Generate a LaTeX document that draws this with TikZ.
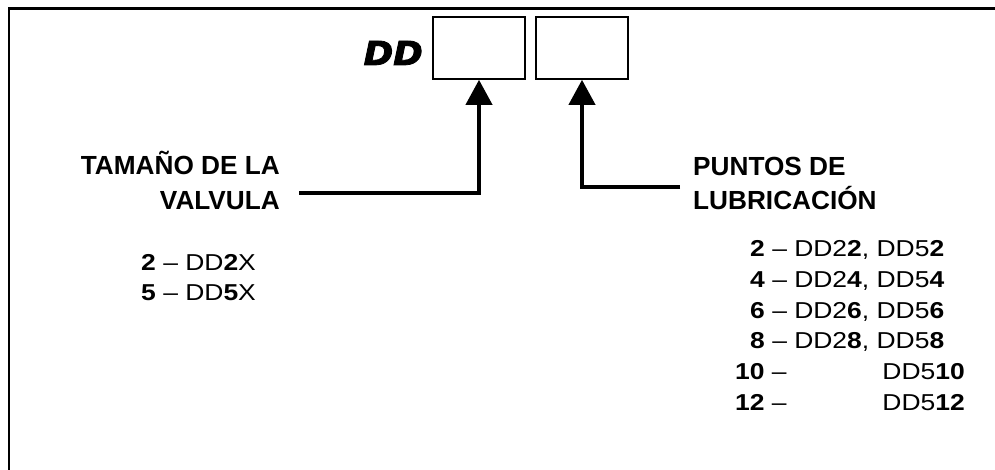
\documentclass[tikz,border=0pt]{standalone}
\usepackage{fontspec}
\setmainfont{Liberation Sans}
\newfontfamily\ddfont{DejaVu Sans}[FakeBold=2.5]
\usetikzlibrary{arrows.meta}

\begin{document}
\begin{tikzpicture}[x=1pt,y=-1pt,
  frameline/.style={line width=2.6pt,line cap=rect},
  codebox/.style={draw,line width=1.6pt,minimum width=92pt,minimum height=62pt,inner sep=0pt},
  conn/.style={line width=4pt,-{Triangle[width=26pt,length=25pt]}},
  heading/.style={font=\fontsize{26.2}{30}\selectfont\bfseries,inner sep=0pt},
  item/.style={font=\fontsize{23}{28}\selectfont,inner sep=0pt}]
\newcommand{\wide}[1]{\scalebox{1.15}[1]{#1}}
\useasboundingbox (0,0) rectangle (995,470);

% open frame: top and left edges only
\draw[frameline] (8.8,470) -- (8.8,8.8) -- (995,8.8);

% code prefix and the two selection boxes
\node[inner sep=0pt,anchor=base east] (dd) at (423,65)
  {\scalebox{1.08}[1]{\ddfont\fontsize{33}{36}\selectfont\bfseries\itshape DD}};
\node[codebox] (b1) at (479,48) {};
\node[codebox] (b2) at (582,48) {};

% left caption: valve size
\node[heading,anchor=base east] (t1) at (280,175) {TAMAÑO DE LA};
\node[heading,anchor=base east] (t2) at (280,210) {VALVULA};
\node[item,anchor=base west] (v2) at (141,270) {\wide{\textbf{2} – DD\textbf{2}X}};
\node[item,anchor=base west] (v5) at (141,300) {\wide{\textbf{5} – DD\textbf{5}X}};

% right caption: lubrication points
\node[heading,anchor=base west] (p1) at (693,176) {PUNTOS DE};
\node[heading,anchor=base west] (p2) at (693,210) {LUBRICACIÓN};
\node[item,anchor=base west] (r2) at (750,256) {\wide{\textbf{2} – DD2\textbf{2}, DD5\textbf{2}}};
\node[item,anchor=base west] (r4) at (750,287) {\wide{\textbf{4} – DD2\textbf{4}, DD5\textbf{4}}};
\node[item,anchor=base west] (r6) at (750,318) {\wide{\textbf{6} – DD2\textbf{6}, DD5\textbf{6}}};
\node[item,anchor=base west] (r8) at (750,348) {\wide{\textbf{8} – DD2\textbf{8}, DD5\textbf{8}}};
\node[item,anchor=base west] (r10a) at (735,379) {\wide{\textbf{10} –}};
\node[item,anchor=base east] (r10b) at (965,379) {\wide{DD5\textbf{10}}};
\node[item,anchor=base west] (r12a) at (735,410) {\wide{\textbf{12} –}};
\node[item,anchor=base east] (r12b) at (965,410) {\wide{DD5\textbf{12}}};

% leader lines into the boxes
\coordinate (l1) at (299,193);
\coordinate (l2) at (680,187);
\draw[conn] (l1) -| (b1.south);
\draw[conn] (l2) -| (b2.south);
\end{tikzpicture}
\end{document}
